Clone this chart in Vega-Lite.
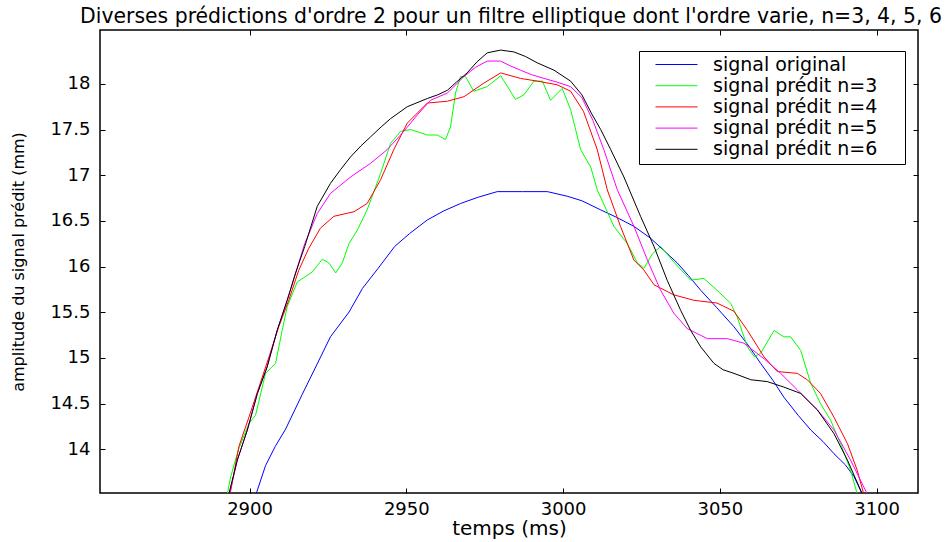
{
  "$schema": "https://vega.github.io/schema/vega-lite/v6.json",
  "width": 818,
  "height": 463,
  "autosize": {"type": "none"},
  "padding": {"left": 100, "top": 30, "right": 34, "bottom": 49},
  "background": "white",
  "title": {"text": "Diverses prédictions d'ordre 2 pour un filtre elliptique dont l'ordre varie, n=3, 4, 5, 6", "font": "DejaVu Sans", "fontSize": 20.4, "fontWeight": "normal", "color": "black", "anchor": "middle", "frame": "group", "baseline": "bottom", "offset": -18, "dx": 2},
  "config": {
    "view": {"stroke": "black", "strokeWidth": 1.5},
    "axis": {"domain": false, "grid": false, "tickColor": "black", "tickSize": -5, "tickWidth": 1, "labelColor": "black", "labelFont": "DejaVu Sans", "labelFontSize": 18, "titleColor": "black", "titleFont": "DejaVu Sans", "titleFontWeight": "normal"}
  },
  "data": {"values": [
    {"s":"signal original","t":2902.1,"a":13.51},{"s":"signal original","t":2905.1,"a":13.82},{"s":"signal original","t":2908.2,"a":14.03},{"s":"signal original","t":2911.5,"a":14.22},{"s":"signal original","t":2916.8,"a":14.6},{"s":"signal original","t":2921.1,"a":14.9},{"s":"signal original","t":2925.8,"a":15.23},{"s":"signal original","t":2931.7,"a":15.5},{"s":"signal original","t":2936,"a":15.76},{"s":"signal original","t":2941,"a":15.98},{"s":"signal original","t":2946.3,"a":16.22},{"s":"signal original","t":2951,"a":16.36},{"s":"signal original","t":2956.7,"a":16.51},{"s":"signal original","t":2962,"a":16.61},{"s":"signal original","t":2967.3,"a":16.69},{"s":"signal original","t":2973,"a":16.76},{"s":"signal original","t":2979,"a":16.82},{"s":"signal original","t":2987,"a":16.82},{"s":"signal original","t":2995,"a":16.82},{"s":"signal original","t":3001.3,"a":16.77},{"s":"signal original","t":3006,"a":16.72},{"s":"signal original","t":3012,"a":16.62},{"s":"signal original","t":3017,"a":16.54},{"s":"signal original","t":3022.6,"a":16.44},{"s":"signal original","t":3027.9,"a":16.31},{"s":"signal original","t":3032,"a":16.18},{"s":"signal original","t":3036.4,"a":16.04},{"s":"signal original","t":3040,"a":15.9},{"s":"signal original","t":3043.9,"a":15.74},{"s":"signal original","t":3049,"a":15.55},{"s":"signal original","t":3054.5,"a":15.34},{"s":"signal original","t":3059,"a":15.14},{"s":"signal original","t":3063,"a":14.94},{"s":"signal original","t":3067,"a":14.75},{"s":"signal original","t":3070.4,"a":14.57},{"s":"signal original","t":3075,"a":14.37},{"s":"signal original","t":3079,"a":14.21},{"s":"signal original","t":3083,"a":14.08},{"s":"signal original","t":3086.4,"a":13.95},{"s":"signal original","t":3090,"a":13.83},{"s":"signal original","t":3092.8,"a":13.7},{"s":"signal original","t":3095.4,"a":13.51},

    {"s":"signal prédit n=3","t":2892.9,"a":13.51},{"s":"signal prédit n=3","t":2894,"a":13.7},{"s":"signal prédit n=3","t":2896.5,"a":14.0},{"s":"signal prédit n=3","t":2899.8,"a":14.28},{"s":"signal prédit n=3","t":2901.9,"a":14.37},{"s":"signal prédit n=3","t":2905.1,"a":14.83},{"s":"signal prédit n=3","t":2908.3,"a":14.94},{"s":"signal prédit n=3","t":2910.4,"a":15.3},{"s":"signal prédit n=3","t":2912,"a":15.56},{"s":"signal prédit n=3","t":2915.2,"a":15.83},{"s":"signal prédit n=3","t":2920,"a":15.94},{"s":"signal prédit n=3","t":2923.2,"a":16.08},{"s":"signal prédit n=3","t":2925.3,"a":16.04},{"s":"signal prédit n=3","t":2927.5,"a":15.93},{"s":"signal prédit n=3","t":2929.6,"a":16.04},{"s":"signal prédit n=3","t":2931.7,"a":16.25},{"s":"signal prédit n=3","t":2934.4,"a":16.4},{"s":"signal prédit n=3","t":2937.5,"a":16.62},{"s":"signal prédit n=3","t":2941.8,"a":17.02},{"s":"signal prédit n=3","t":2945,"a":17.35},{"s":"signal prédit n=3","t":2948.2,"a":17.48},{"s":"signal prédit n=3","t":2951.4,"a":17.5},{"s":"signal prédit n=3","t":2956.7,"a":17.44},{"s":"signal prédit n=3","t":2959.9,"a":17.44},{"s":"signal prédit n=3","t":2962.5,"a":17.39},{"s":"signal prédit n=3","t":2964.1,"a":17.53},{"s":"signal prédit n=3","t":2965.7,"a":17.9},{"s":"signal prédit n=3","t":2967.3,"a":18.08},{"s":"signal prédit n=3","t":2968.9,"a":18.08},{"s":"signal prédit n=3","t":2971.5,"a":17.92},{"s":"signal prédit n=3","t":2975.8,"a":17.97},{"s":"signal prédit n=3","t":2980.1,"a":18.09},{"s":"signal prédit n=3","t":2984.8,"a":17.83},{"s":"signal prédit n=3","t":2987.5,"a":17.88},{"s":"signal prédit n=3","t":2990.7,"a":18.03},{"s":"signal prédit n=3","t":2993.4,"a":18.03},{"s":"signal prédit n=3","t":2996,"a":17.82},{"s":"signal prédit n=3","t":2999.7,"a":17.95},{"s":"signal prédit n=3","t":3002.4,"a":17.72},{"s":"signal prédit n=3","t":3005.6,"a":17.28},{"s":"signal prédit n=3","t":3008.8,"a":17.09},{"s":"signal prédit n=3","t":3010.9,"a":16.84},{"s":"signal prédit n=3","t":3016.2,"a":16.44},{"s":"signal prédit n=3","t":3020.5,"a":16.25},{"s":"signal prédit n=3","t":3023.7,"a":16.04},{"s":"signal prédit n=3","t":3025.8,"a":15.98},{"s":"signal prédit n=3","t":3028.5,"a":16.14},{"s":"signal prédit n=3","t":3031.1,"a":16.22},{"s":"signal prédit n=3","t":3035.3,"a":16.05},{"s":"signal prédit n=3","t":3040.7,"a":15.85},{"s":"signal prédit n=3","t":3044.9,"a":15.87},{"s":"signal prédit n=3","t":3049.1,"a":15.74},{"s":"signal prédit n=3","t":3053.4,"a":15.6},{"s":"signal prédit n=3","t":3055.5,"a":15.45},{"s":"signal prédit n=3","t":3058.8,"a":15.12},{"s":"signal prédit n=3","t":3061,"a":15.01},{"s":"signal prédit n=3","t":3063,"a":15.05},{"s":"signal prédit n=3","t":3067.3,"a":15.3},{"s":"signal prédit n=3","t":3070.4,"a":15.23},{"s":"signal prédit n=3","t":3072.6,"a":15.23},{"s":"signal prédit n=3","t":3075.8,"a":15.08},{"s":"signal prédit n=3","t":3079,"a":14.72},{"s":"signal prédit n=3","t":3082.1,"a":14.5},{"s":"signal prédit n=3","t":3085.3,"a":14.32},{"s":"signal prédit n=3","t":3088.5,"a":14.06},{"s":"signal prédit n=3","t":3091.7,"a":13.77},{"s":"signal prédit n=3","t":3093.8,"a":13.51},

    {"s":"signal prédit n=4","t":2893.8,"a":13.51},{"s":"signal prédit n=4","t":2896.6,"a":14.03},{"s":"signal prédit n=4","t":2899.8,"a":14.35},{"s":"signal prédit n=4","t":2903,"a":14.68},{"s":"signal prédit n=4","t":2906.2,"a":15.01},{"s":"signal prédit n=4","t":2909.3,"a":15.34},{"s":"signal prédit n=4","t":2912.5,"a":15.63},{"s":"signal prédit n=4","t":2915.7,"a":15.96},{"s":"signal prédit n=4","t":2918.9,"a":16.2},{"s":"signal prédit n=4","t":2922.6,"a":16.42},{"s":"signal prédit n=4","t":2926.9,"a":16.55},{"s":"signal prédit n=4","t":2933.3,"a":16.6},{"s":"signal prédit n=4","t":2937.5,"a":16.69},{"s":"signal prédit n=4","t":2941.8,"a":16.95},{"s":"signal prédit n=4","t":2946,"a":17.28},{"s":"signal prédit n=4","t":2950.3,"a":17.57},{"s":"signal prédit n=4","t":2956.7,"a":17.79},{"s":"signal prédit n=4","t":2963.1,"a":17.81},{"s":"signal prédit n=4","t":2968.4,"a":17.86},{"s":"signal prédit n=4","t":2974.8,"a":18.01},{"s":"signal prédit n=4","t":2980.1,"a":18.12},{"s":"signal prédit n=4","t":2986.4,"a":18.06},{"s":"signal prédit n=4","t":2991.8,"a":18.03},{"s":"signal prédit n=4","t":2998.1,"a":17.99},{"s":"signal prédit n=4","t":3002.4,"a":17.92},{"s":"signal prédit n=4","t":3006.5,"a":17.7},{"s":"signal prédit n=4","t":3010.9,"a":17.28},{"s":"signal prédit n=4","t":3014.1,"a":16.84},{"s":"signal prédit n=4","t":3018.3,"a":16.44},{"s":"signal prédit n=4","t":3022.6,"a":16.07},{"s":"signal prédit n=4","t":3025.8,"a":15.96},{"s":"signal prédit n=4","t":3029,"a":15.8},{"s":"signal prédit n=4","t":3035.3,"a":15.69},{"s":"signal prédit n=4","t":3041.7,"a":15.63},{"s":"signal prédit n=4","t":3049.1,"a":15.6},{"s":"signal prédit n=4","t":3054.5,"a":15.51},{"s":"signal prédit n=4","t":3058.8,"a":15.3},{"s":"signal prédit n=4","t":3064.1,"a":15.01},{"s":"signal prédit n=4","t":3068.3,"a":14.85},{"s":"signal prédit n=4","t":3074.7,"a":14.83},{"s":"signal prédit n=4","t":3077.9,"a":14.76},{"s":"signal prédit n=4","t":3082.1,"a":14.61},{"s":"signal prédit n=4","t":3086.4,"a":14.35},{"s":"signal prédit n=4","t":3090.7,"a":14.06},{"s":"signal prédit n=4","t":3093.8,"a":13.77},{"s":"signal prédit n=4","t":3095.9,"a":13.51},

    {"s":"signal prédit n=5","t":2893.6,"a":13.51},{"s":"signal prédit n=5","t":2896.1,"a":13.88},{"s":"signal prédit n=5","t":2899.3,"a":14.21},{"s":"signal prédit n=5","t":2902.5,"a":14.61},{"s":"signal prédit n=5","t":2905.6,"a":14.9},{"s":"signal prédit n=5","t":2908.8,"a":15.3},{"s":"signal prédit n=5","t":2912,"a":15.63},{"s":"signal prédit n=5","t":2914.7,"a":15.93},{"s":"signal prédit n=5","t":2917.6,"a":16.25},{"s":"signal prédit n=5","t":2921.6,"a":16.58},{"s":"signal prédit n=5","t":2925.8,"a":16.8},{"s":"signal prédit n=5","t":2932.2,"a":16.98},{"s":"signal prédit n=5","t":2938.6,"a":17.13},{"s":"signal prédit n=5","t":2943.9,"a":17.28},{"s":"signal prédit n=5","t":2949.2,"a":17.48},{"s":"signal prédit n=5","t":2953.5,"a":17.66},{"s":"signal prédit n=5","t":2957.7,"a":17.82},{"s":"signal prédit n=5","t":2963.1,"a":17.9},{"s":"signal prédit n=5","t":2968.4,"a":18.08},{"s":"signal prédit n=5","t":2972,"a":18.18},{"s":"signal prédit n=5","t":2975.8,"a":18.25},{"s":"signal prédit n=5","t":2980,"a":18.25},{"s":"signal prédit n=5","t":2983,"a":18.2},{"s":"signal prédit n=5","t":2986.4,"a":18.15},{"s":"signal prédit n=5","t":2990,"a":18.1},{"s":"signal prédit n=5","t":2993.9,"a":18.06},{"s":"signal prédit n=5","t":2998,"a":18.02},{"s":"signal prédit n=5","t":3002.4,"a":17.97},{"s":"signal prédit n=5","t":3006,"a":17.85},{"s":"signal prédit n=5","t":3009.5,"a":17.6},{"s":"signal prédit n=5","t":3013,"a":17.28},{"s":"signal prédit n=5","t":3017.3,"a":16.84},{"s":"signal prédit n=5","t":3022.6,"a":16.44},{"s":"signal prédit n=5","t":3026.9,"a":16.07},{"s":"signal prédit n=5","t":3031.1,"a":15.74},{"s":"signal prédit n=5","t":3035.3,"a":15.49},{"s":"signal prédit n=5","t":3039.6,"a":15.32},{"s":"signal prédit n=5","t":3046,"a":15.21},{"s":"signal prédit n=5","t":3052.4,"a":15.21},{"s":"signal prédit n=5","t":3057.7,"a":15.16},{"s":"signal prédit n=5","t":3064.1,"a":14.99},{"s":"signal prédit n=5","t":3069.4,"a":14.83},{"s":"signal prédit n=5","t":3074.7,"a":14.65},{"s":"signal prédit n=5","t":3081.1,"a":14.43},{"s":"signal prédit n=5","t":3086.4,"a":14.21},{"s":"signal prédit n=5","t":3091.7,"a":13.88},{"s":"signal prédit n=5","t":3097,"a":13.51},

    {"s":"signal prédit n=6","t":2893.4,"a":13.51},{"s":"signal prédit n=6","t":2896.1,"a":13.88},{"s":"signal prédit n=6","t":2899.3,"a":14.21},{"s":"signal prédit n=6","t":2902.5,"a":14.61},{"s":"signal prédit n=6","t":2905.6,"a":14.9},{"s":"signal prédit n=6","t":2908.8,"a":15.3},{"s":"signal prédit n=6","t":2912,"a":15.63},{"s":"signal prédit n=6","t":2914.7,"a":15.93},{"s":"signal prédit n=6","t":2917.6,"a":16.22},{"s":"signal prédit n=6","t":2921.6,"a":16.66},{"s":"signal prédit n=6","t":2925.8,"a":16.91},{"s":"signal prédit n=6","t":2929,"a":17.06},{"s":"signal prédit n=6","t":2932.2,"a":17.2},{"s":"signal prédit n=6","t":2935.5,"a":17.32},{"s":"signal prédit n=6","t":2938.6,"a":17.42},{"s":"signal prédit n=6","t":2942,"a":17.53},{"s":"signal prédit n=6","t":2945,"a":17.62},{"s":"signal prédit n=6","t":2950.3,"a":17.75},{"s":"signal prédit n=6","t":2956.7,"a":17.84},{"s":"signal prédit n=6","t":2960,"a":17.88},{"s":"signal prédit n=6","t":2963.1,"a":17.93},{"s":"signal prédit n=6","t":2966,"a":18.02},{"s":"signal prédit n=6","t":2969.4,"a":18.12},{"s":"signal prédit n=6","t":2972.5,"a":18.24},{"s":"signal prédit n=6","t":2975.8,"a":18.34},{"s":"signal prédit n=6","t":2980.1,"a":18.37},{"s":"signal prédit n=6","t":2984.3,"a":18.35},{"s":"signal prédit n=6","t":2988,"a":18.3},{"s":"signal prédit n=6","t":2991.8,"a":18.23},{"s":"signal prédit n=6","t":2997.1,"a":18.15},{"s":"signal prédit n=6","t":3002.4,"a":18.03},{"s":"signal prédit n=6","t":3006,"a":17.88},{"s":"signal prédit n=6","t":3009,"a":17.68},{"s":"signal prédit n=6","t":3012,"a":17.5},{"s":"signal prédit n=6","t":3015.2,"a":17.28},{"s":"signal prédit n=6","t":3019.4,"a":16.98},{"s":"signal prédit n=6","t":3024.7,"a":16.55},{"s":"signal prédit n=6","t":3029,"a":16.22},{"s":"signal prédit n=6","t":3033.2,"a":15.85},{"s":"signal prédit n=6","t":3037.5,"a":15.52},{"s":"signal prédit n=6","t":3040.7,"a":15.3},{"s":"signal prédit n=6","t":3043.9,"a":15.12},{"s":"signal prédit n=6","t":3048.1,"a":14.94},{"s":"signal prédit n=6","t":3051,"a":14.87},{"s":"signal prédit n=6","t":3054.5,"a":14.83},{"s":"signal prédit n=6","t":3059.9,"a":14.76},{"s":"signal prédit n=6","t":3065.1,"a":14.74},{"s":"signal prédit n=6","t":3070.4,"a":14.68},{"s":"signal prédit n=6","t":3075.8,"a":14.61},{"s":"signal prédit n=6","t":3081.1,"a":14.43},{"s":"signal prédit n=6","t":3086.4,"a":14.17},{"s":"signal prédit n=6","t":3090.7,"a":13.88},{"s":"signal prédit n=6","t":3095.4,"a":13.51}
  ]},
  "layer": [
    {
      "mark": {"type": "line", "strokeWidth": 1, "clip": true},
      "encoding": {
        "x": {"field": "t", "type": "quantitative", "scale": {"domain": [2852.3, 3113.2], "nice": false, "zero": false},
              "axis": {"orient": "bottom", "values": [2900, 2950, 3000, 3050, 3100], "format": "d", "labelPadding": 12, "title": "temps (ms)", "titleFontSize": 20, "titleX": 409, "titleY": 35, "titleAlign": "center", "titleBaseline": "middle"}},
        "y": {"field": "a", "type": "quantitative", "scale": {"domain": [13.52, 18.59], "nice": false, "zero": false},
              "axis": {"orient": "left", "values": [14, 14.5, 15, 15.5, 16, 16.5, 17, 17.5, 18], "format": "~g", "labelPadding": 15, "title": "amplitude du signal prédit (mm)", "titleFontSize": 16, "titleAngle": -90, "titleX": -82, "titleY": 231.5, "titleAlign": "center", "titleBaseline": "middle"}},
        "color": {"field": "s", "type": "nominal",
                  "scale": {"domain": ["signal original", "signal prédit n=3", "signal prédit n=4", "signal prédit n=5", "signal prédit n=6"], "range": ["#0000ff", "#00ff00", "#ff0000", "#ff00ff", "#000000"]},
                  "legend": {"orient": "none", "legendX": 539, "legendY": 21, "title": "\u00a0", "titleOrient": "right", "titlePadding": 24, "titleFontSize": 10, "strokeColor": "black", "fillColor": "white", "padding": 4, "symbolType": "M-5.25,0H5.25", "symbolSize": 64, "symbolStrokeWidth": 1, "symbolOffset": 24, "labelOffset": 27, "labelFont": "DejaVu Sans", "labelFontSize": 19, "labelLimit": 400, "labelColor": "black", "rowPadding": 1.2}}
      }
    },
    {
      "mark": {"type": "line", "strokeOpacity": 0},
      "encoding": {
        "x": {"field": "t", "type": "quantitative", "axis": {"orient": "top", "values": [2900, 2950, 3000, 3050, 3100], "labels": false, "title": null}},
        "y": {"field": "a", "type": "quantitative", "axis": {"orient": "right", "values": [14, 14.5, 15, 15.5, 16, 16.5, 17, 17.5, 18], "labels": false, "title": null}},
        "detail": {"field": "s", "type": "nominal"}
      }
    }
  ],
  "resolve": {"axis": {"x": "independent", "y": "independent"}}
}
